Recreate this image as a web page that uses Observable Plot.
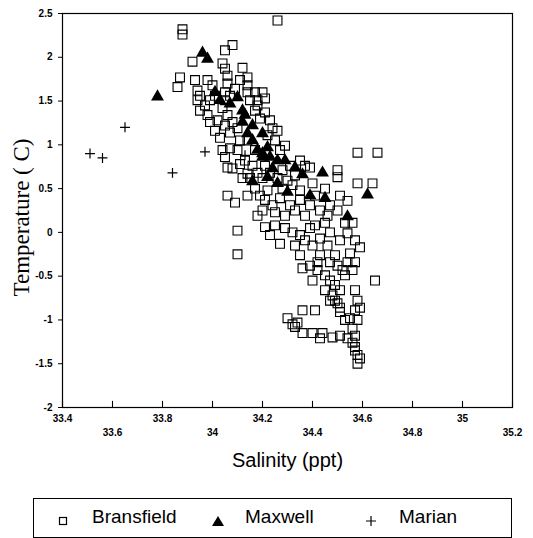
<!DOCTYPE html>
<html><head><meta charset="utf-8">
<script src="https://cdn.jsdelivr.net/npm/d3@7"></script>
<script src="https://cdn.jsdelivr.net/npm/@observablehq/plot@0.6"></script>
<style>
body{margin:0;background:#fff;}
#wrap{position:relative;width:533px;height:538px;overflow:hidden;background:#fff;}
#legend{position:absolute;left:33px;top:498px;width:479px;height:40px;border:1.3px solid #000;box-sizing:border-box;font-family:"Liberation Sans",Arial,sans-serif;font-size:19px;color:#000;}
.lab{position:absolute;top:6px;line-height:24px;}
.sym{position:absolute;top:11px;}
</style></head><body><div id="wrap"><div id="chart"></div><div id="legend"></div></div>
<script>
const seriesNames = ["Bransfield", "Maxwell", "Marian"];
const xTicksRow1 = [33.4, 33.8, 34.2, 34.6, 35.0];
const xTicksRow2 = [33.6, 34.0, 34.4, 34.8, 35.2];
const yTicks = [2.5, 2, 1.5, 1, 0.5, 0, -0.5, -1, -1.5, -2];

const bransfield = [
[34.26,2.42],[33.88,2.32],[33.88,2.26],[34.05,2.08],[34.08,2.14],[33.92,1.95],
[33.86,1.66],[33.87,1.77],[33.93,1.74],[33.98,1.74],[33.94,1.62],[33.94,1.51],[33.95,1.56],
[34.04,1.93],[34.05,1.87],[34.06,1.79],[34.06,1.70],[34.05,1.60],[34.05,1.51],
[34.12,1.88],[34.14,1.77],[34.14,1.68],[34.14,1.60],[34.15,1.51],[34.17,1.60],[34.20,1.60],
[34.11,1.74],[34.09,1.64],[34.00,1.68],[34.01,1.56],[34.07,1.56],[33.99,1.51],[34.18,1.51],[34.21,1.53],
[33.97,1.45],[33.98,1.34],[33.99,1.26],[34.02,1.28],[34.01,1.16],[34.03,1.08],[34.05,1.22],[34.06,1.34],
[34.08,1.26],[34.07,1.14],[34.10,1.19],[34.11,1.05],[34.17,1.39],[34.19,1.30],[34.21,1.37],[34.23,1.28],
[34.24,1.19],[34.22,1.11],[34.25,1.05],[34.26,1.16],[34.18,1.45],[34.14,1.05],[34.04,1.42],[33.95,1.39],
[34.05,0.86],[34.06,0.74],[34.08,0.73],[34.04,0.94],[34.07,0.96],[34.10,0.94],[34.13,0.82],[34.14,0.67],
[34.16,0.76],[34.15,0.62],[34.18,0.68],[34.20,0.62],[34.17,0.94],[34.21,0.76],[34.27,0.94],[34.29,0.99],
[34.28,0.71],[34.31,0.76],[34.33,0.65],[34.35,0.82],[34.37,0.76],[34.39,0.74],[34.26,0.62],[34.30,0.59],
[34.23,0.68],[34.11,0.78],[34.12,0.62],
[34.06,0.42],[34.09,0.34],[34.17,0.50],[34.19,0.42],[34.21,0.37],[34.24,0.31],[34.27,0.39],[34.31,0.31],
[34.35,0.37],[34.40,0.56],[34.32,0.54],[34.43,0.25],[34.47,0.31],[34.50,0.71],[34.50,0.63],[34.51,0.42],
[34.54,0.36],[34.58,0.56],[34.64,0.56],[34.58,0.91],[34.66,0.91],[34.22,0.48],[34.25,0.23],[34.29,0.19],
[34.33,0.25],[34.37,0.19],[34.39,0.31],[34.41,0.42],[34.45,0.50],[34.46,0.19],[34.50,0.25],[34.14,0.42],
[34.20,0.25],[34.28,0.50],[34.35,0.48],[34.18,0.19],
[34.10,0.02],[34.10,-0.25],[34.21,0.06],[34.25,0.08],[34.29,0.05],[34.32,0.00],[34.35,-0.03],[34.37,-0.09],
[34.40,-0.15],[34.43,-0.07],[34.47,0.00],[34.51,-0.09],[34.54,-0.01],[34.57,-0.09],[34.59,-0.17],[34.27,-0.13],
[34.35,-0.26],[34.43,-0.26],[34.49,-0.26],[34.55,-0.24],[34.41,0.08],[34.45,0.11],[34.53,0.11],[34.39,0.05],
[34.33,-0.15],[34.46,-0.15],[34.56,0.11],[34.23,-0.03],
[34.36,-0.41],[34.39,-0.38],[34.42,-0.43],[34.45,-0.49],[34.47,-0.55],[34.49,-0.60],[34.51,-0.66],[34.53,-0.49],
[34.56,-0.43],[34.57,-0.34],[34.65,-0.55],[34.47,-0.34],[34.42,-0.34],[34.45,-0.66],[34.48,-0.72],[34.49,-0.78],
[34.52,-0.43],[34.40,-0.55],[34.54,-0.34],[34.50,-0.38],
[34.36,-0.89],[34.41,-0.89],[34.30,-0.98],[34.33,-1.08],[34.36,-1.15],[34.40,-1.15],[34.44,-1.15],[34.48,-1.20],
[34.51,-1.18],[34.56,-1.10],[34.57,-0.89],[34.59,-0.86],[34.51,-0.91],[34.53,-1.00],[34.55,-0.98],[34.47,-0.78],
[34.50,-0.81],[34.51,-0.86],[34.58,-1.00],[34.57,-1.18],[34.34,-1.03],[34.32,-1.05],[34.58,-0.78],[34.57,-0.66],
[34.43,-1.21],[34.54,-1.21],
[34.57,-1.31],[34.58,-1.40],[34.58,-1.50],[34.56,-1.26],[34.57,-1.35],[34.59,-1.44]
];

const maxwell = [
[33.78,1.55],[33.96,2.05],[33.98,1.98],
[34.01,1.60],[34.03,1.51],[34.07,1.47],[34.10,1.54],[34.12,1.39],[34.13,1.34],[34.12,1.26],[34.16,1.22],
[34.14,1.13],[34.16,1.05],[34.20,1.13],[34.22,0.97],[34.18,0.94],[34.20,0.86],[34.23,0.86],[34.24,0.73],
[34.20,0.90],[34.22,0.63],[34.16,0.58],[34.26,0.82],[34.29,0.82],[34.33,0.74],[34.36,0.66],[34.44,0.68],
[34.26,0.56],[34.30,0.46],[34.39,0.42],[34.45,0.39],[34.54,0.18],[34.62,0.43]
];

const marian = [
[33.51,0.90],[33.56,0.85],[33.65,1.20],[33.84,0.68],[33.97,0.92],[34.13,0.88]
];

const fmt = d => String(+d.toFixed(1));
const tickFont = "Liberation Sans, Arial, sans-serif";

const chart = Plot.plot({
  width: 533, height: 485,
  marginLeft: 62, marginRight: 21, marginTop: 13, marginBottom: 78,
  x: {domain: [33.4, 35.2]},
  y: {domain: [-2, 2.5]},
  style: {fontFamily: tickFont, background: "white", color: "black", overflow: "visible"},
  marks: [
    Plot.frame({stroke: "black", strokeWidth: 1.2}),
    Plot.ruleX(xTicksRow1.concat(xTicksRow2), {y1: -2, y2: -1.93, stroke: "black", strokeWidth: 1.1}),
    Plot.axisX(xTicksRow1, {tickSize: 0, tickPadding: 7, tickFormat: fmt, fontSize: 10, fontWeight: "bold", label: null}),
    Plot.axisX(xTicksRow2, {tickSize: 0, tickPadding: 21, tickFormat: fmt, fontSize: 10, fontWeight: "bold", label: null}),
    Plot.axisY(yTicks, {tickSize: 4, tickPadding: 6, tickFormat: d => String(d), fontSize: 10, fontWeight: "bold", label: null}),
    Plot.dot(bransfield, {x: d => d[0], y: d => d[1], symbol: "square", r: 5, stroke: "black", fill: "none", strokeWidth: 1.1}),
    Plot.dot(maxwell, {x: d => d[0], y: d => d[1], symbol: "triangle", r: 4.8, fill: "black", stroke: "none"}),
    Plot.dot(marian, {x: d => d[0], y: d => d[1], symbol: d3.symbolPlus, r: 3.3, stroke: "black", fill: "none", strokeWidth: 1.2}),
    Plot.text(["Salinity (ppt)"], {text: d => d, frameAnchor: "bottom", textAnchor: "middle", lineAnchor: "middle", dy: 53, fontSize: 20, fontFamily: tickFont}),
    Plot.text(["Temperature ( C)"], {text: d => d, frameAnchor: "left", textAnchor: "middle", lineAnchor: "middle", dx: -41, dy: 7, rotate: -90, fontSize: 23, fontFamily: "Liberation Serif, Times New Roman, serif"})
  ]
});
document.getElementById("chart").appendChild(chart);

const legend = document.getElementById("legend");
const symbols = [
  {cx: 29, svg: '<svg width="12" height="12"><rect x="2.5" y="2.5" width="7" height="7" fill="none" stroke="black" stroke-width="1.2"/></svg>', tx: 58},
  {cx: 183, svg: '<svg width="14" height="12"><path d="M7,1 L13,11 L1,11 Z" fill="black"/></svg>', tx: 211},
  {cx: 337, svg: '<svg width="12" height="12"><path d="M6,1 V11 M1,6 H11" stroke="black" stroke-width="1.2"/></svg>', tx: 365}
];
symbols.forEach((s, i) => {
  const sy = document.createElement("div");
  sy.className = "sym";
  sy.style.left = (s.cx - 6) + "px";
  sy.innerHTML = s.svg;
  legend.appendChild(sy);
  const t = document.createElement("div");
  t.className = "lab";
  t.style.left = s.tx + "px";
  t.textContent = seriesNames[i];
  legend.appendChild(t);
});
</script>
</body></html>
